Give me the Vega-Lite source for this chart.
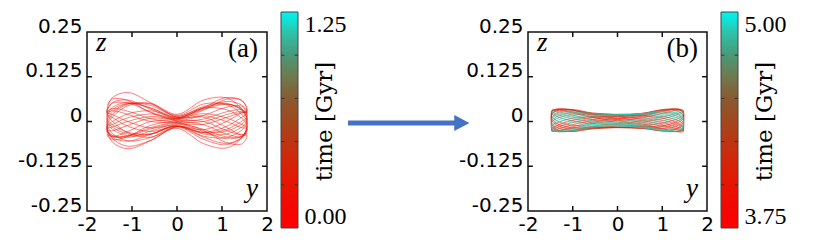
{
"$schema":"https://vega.github.io/schema/vega-lite/v6.json",
"autosize":{"type":"none"},
"padding":{"left":87,"top":32,"right":563,"bottom":38},
"width":180,"height":179,
"background":"white",
"config":{"view":{"stroke":null}},
"datasets":{
"one":[{"k":1}],
"xt":[{"v":-1},{"v":0},{"v":1}],
"yt":[{"v":-0.125},{"v":0},{"v":0.125}],
"cta":[{"v":0.25},{"v":0.5},{"v":0.75},{"v":1}],
"ctb":[{"v":4},{"v":4.25},{"v":4.5},{"v":4.75}],
"a":[
{"t":0,"y":-1.55,"z":0.045},{"t":0,"y":-1.432,"z":0.063},{"t":0,"y":-1.096,"z":0.059},{"t":0,"y":-0.593,"z":0.025},{"t":0,"y":0,"z":0},{"t":0,"y":0.593,"z":-0.025},{"t":0,"y":1.096,"z":-0.059},{"t":0,"y":1.432,"z":-0.063},{"t":0,"y":1.55,"z":-0.045},{"t":0,"y":1.55,"z":-0.037},
{"t":0.012,"y":1.55,"z":-0.037},{"t":0.012,"y":1.432,"z":-0.038},{"t":0.012,"y":1.096,"z":-0.016},{"t":0.012,"y":0.593,"z":0.012},{"t":0.012,"y":0,"z":0.012},{"t":0.012,"y":-0.593,"z":0.053},{"t":0.012,"y":-1.096,"z":0.081},{"t":0.012,"y":-1.432,"z":0.067},{"t":0.012,"y":-1.55,"z":0.037},{"t":0.012,"y":-1.55,"z":0.017},
{"t":0.024,"y":-1.55,"z":0.017},{"t":0.024,"y":-1.432,"z":0},{"t":0.024,"y":-1.096,"z":-0.031},{"t":0.024,"y":-0.593,"z":-0.044},{"t":0.024,"y":0,"z":-0.019},{"t":0.024,"y":0.593,"z":-0.062},{"t":0.024,"y":1.096,"z":-0.074},{"t":0.024,"y":1.432,"z":-0.047},{"t":0.024,"y":1.55,"z":-0.017},{"t":0.024,"y":1.55,"z":0.008},
{"t":0.036,"y":1.55,"z":0.008},{"t":0.036,"y":1.432,"z":0.036},{"t":0.036,"y":1.096,"z":0.066},{"t":0.036,"y":0.593,"z":0.06},{"t":0.036,"y":0,"z":0.02},{"t":0.036,"y":-0.593,"z":0.051},{"t":0.036,"y":-1.096,"z":0.044},{"t":0.036,"y":-1.432,"z":0.013},{"t":0.036,"y":-1.55,"z":-0.008},{"t":0.036,"y":-1.55,"z":-0.029},
{"t":0.048,"y":-1.55,"z":-0.029},{"t":0.048,"y":-1.432,"z":-0.058},{"t":0.048,"y":-1.096,"z":-0.076},{"t":0.048,"y":-0.593,"z":-0.054},{"t":0.048,"y":0,"z":-0.014},{"t":0.048,"y":0.593,"z":-0.023},{"t":0.048,"y":1.096,"z":0},{"t":0.048,"y":1.432,"z":0.024},{"t":0.048,"y":1.55,"z":0.029},{"t":0.048,"y":1.55,"z":0.04},
{"t":0.06,"y":1.55,"z":0.04},{"t":0.06,"y":1.432,"z":0.06},{"t":0.06,"y":1.096,"z":0.062},{"t":0.06,"y":0.593,"z":0.032},{"t":0.06,"y":0,"z":0.004},{"t":0.06,"y":-0.593,"z":-0.011},{"t":0.06,"y":-1.096,"z":-0.042},{"t":0.06,"y":-1.432,"z":-0.051},{"t":0.06,"y":-1.55,"z":-0.04},{"t":0.06,"y":-1.55,"z":-0.036},
{"t":0.072,"y":-1.55,"z":-0.036},{"t":0.072,"y":-1.432,"z":-0.042},{"t":0.072,"y":-1.096,"z":-0.028},{"t":0.072,"y":-0.593,"z":0},{"t":0.072,"y":0,"z":0.007},{"t":0.072,"y":0.593,"z":0.039},{"t":0.072,"y":1.096,"z":0.067},{"t":0.072,"y":1.432,"z":0.059},{"t":0.072,"y":1.55,"z":0.036},{"t":0.072,"y":1.55,"z":0.021},
{"t":0.084,"y":1.55,"z":0.021},{"t":0.084,"y":1.432,"z":0.011},{"t":0.084,"y":1.096,"z":-0.014},{"t":0.084,"y":0.593,"z":-0.03},{"t":0.084,"y":0,"z":-0.015},{"t":0.084,"y":-0.593,"z":-0.053},{"t":0.084,"y":-1.096,"z":-0.069},{"t":0.084,"y":-1.432,"z":-0.048},{"t":0.084,"y":-1.55,"z":-0.021},{"t":0.084,"y":-1.55,"z":0},
{"t":0.096,"y":-1.55,"z":0},{"t":0.096,"y":-1.432,"z":0.021},{"t":0.096,"y":-1.096,"z":0.048},{"t":0.096,"y":-0.593,"z":0.049},{"t":0.096,"y":0,"z":0.017},{"t":0.096,"y":0.593,"z":0.049},{"t":0.096,"y":1.096,"z":0.048},{"t":0.096,"y":1.432,"z":0.021},{"t":0.096,"y":1.55,"z":0},{"t":0.096,"y":1.55,"z":-0.02},
{"t":0.108,"y":1.55,"z":-0.02},{"t":0.108,"y":1.432,"z":-0.045},{"t":0.108,"y":1.096,"z":-0.065},{"t":0.108,"y":0.593,"z":-0.05},{"t":0.108,"y":0,"z":-0.014},{"t":0.108,"y":-0.593,"z":-0.028},{"t":0.108,"y":-1.096,"z":-0.013},{"t":0.108,"y":-1.432,"z":0.011},{"t":0.108,"y":-1.55,"z":0.02},{"t":0.108,"y":-1.55,"z":0.032},
{"t":0.12,"y":-1.55,"z":0.032},{"t":0.12,"y":-1.432,"z":0.053},{"t":0.12,"y":-1.096,"z":0.06},{"t":0.12,"y":-0.593,"z":0.035},{"t":0.12,"y":0,"z":0.006},{"t":0.12,"y":0.593,"z":0},{"t":0.12,"y":1.096,"z":-0.025},{"t":0.12,"y":1.432,"z":-0.037},{"t":0.12,"y":1.55,"z":-0.032},{"t":0.12,"y":1.55,"z":-0.034},
{"t":0.132,"y":1.55,"z":-0.034},{"t":0.132,"y":1.432,"z":-0.043},{"t":0.132,"y":1.096,"z":-0.035},{"t":0.132,"y":0.593,"z":-0.009},{"t":0.132,"y":0,"z":0.003},{"t":0.132,"y":-0.593,"z":0.027},{"t":0.132,"y":-1.096,"z":0.052},{"t":0.132,"y":-1.432,"z":0.051},{"t":0.132,"y":-1.55,"z":0.034},{"t":0.132,"y":-1.55,"z":0.024},
{"t":0.144,"y":-1.55,"z":0.024},{"t":0.144,"y":-1.432,"z":0.019},{"t":0.144,"y":-1.096,"z":0},{"t":0.144,"y":-0.593,"z":-0.018},{"t":0.144,"y":0,"z":-0.011},{"t":0.144,"y":0.593,"z":-0.044},{"t":0.144,"y":1.096,"z":-0.061},{"t":0.144,"y":1.432,"z":-0.046},{"t":0.144,"y":1.55,"z":-0.024},{"t":0.144,"y":1.55,"z":-0.006},
{"t":0.156,"y":1.55,"z":-0.006},{"t":0.156,"y":1.432,"z":0.01},{"t":0.156,"y":1.096,"z":0.033},{"t":0.156,"y":0.593,"z":0.038},{"t":0.156,"y":0,"z":0.015},{"t":0.156,"y":-0.593,"z":0.045},{"t":0.156,"y":-1.096,"z":0.05},{"t":0.156,"y":-1.432,"z":0.027},{"t":0.156,"y":-1.55,"z":0.006},{"t":0.156,"y":-1.55,"z":-0.012},
{"t":0.168,"y":-1.55,"z":-0.012},{"t":0.168,"y":-1.432,"z":-0.034},{"t":0.168,"y":-1.096,"z":-0.054},{"t":0.168,"y":-0.593,"z":-0.045},{"t":0.168,"y":0,"z":-0.014},{"t":0.168,"y":0.593,"z":-0.032},{"t":0.168,"y":1.096,"z":-0.022},{"t":0.168,"y":1.432,"z":0},{"t":0.168,"y":1.55,"z":0.012},{"t":0.168,"y":1.55,"z":0.026},
{"t":0.18,"y":1.55,"z":0.026},{"t":0.18,"y":1.432,"z":0.046},{"t":0.18,"y":1.096,"z":0.056},{"t":0.18,"y":0.593,"z":0.037},{"t":0.18,"y":0,"z":0.008},{"t":0.18,"y":-0.593,"z":0.009},{"t":0.18,"y":-1.096,"z":-0.011},{"t":0.18,"y":-1.432,"z":-0.026},{"t":0.18,"y":-1.55,"z":-0.026},{"t":0.18,"y":-1.55,"z":-0.031},
{"t":0.192,"y":-1.55,"z":-0.031},{"t":0.192,"y":-1.432,"z":-0.043},{"t":0.192,"y":-1.096,"z":-0.04},{"t":0.192,"y":-0.593,"z":-0.017},{"t":0.192,"y":0,"z":0},{"t":0.192,"y":0.593,"z":0.017},{"t":0.192,"y":1.096,"z":0.04},{"t":0.192,"y":1.432,"z":0.043},{"t":0.192,"y":1.55,"z":0.031},{"t":0.192,"y":1.55,"z":0.025},
{"t":0.204,"y":1.55,"z":0.025},{"t":0.204,"y":1.432,"z":0.025},{"t":0.204,"y":1.096,"z":0.011},{"t":0.204,"y":0.593,"z":-0.008},{"t":0.204,"y":0,"z":-0.008},{"t":0.204,"y":-0.593,"z":-0.036},{"t":0.204,"y":-1.096,"z":-0.055},{"t":0.204,"y":-1.432,"z":-0.045},{"t":0.204,"y":-1.55,"z":-0.025},{"t":0.204,"y":-1.55,"z":-0.011},
{"t":0.216,"y":-1.55,"z":-0.011},{"t":0.216,"y":-1.432,"z":0},{"t":0.216,"y":-1.096,"z":0.021},{"t":0.216,"y":-0.593,"z":0.03},{"t":0.216,"y":0,"z":0.013},{"t":0.216,"y":0.593,"z":0.042},{"t":0.216,"y":1.096,"z":0.051},{"t":0.216,"y":1.432,"z":0.032},{"t":0.216,"y":1.55,"z":0.011},{"t":0.216,"y":1.55,"z":-0.006},
{"t":0.228,"y":1.55,"z":-0.006},{"t":0.228,"y":1.432,"z":-0.025},{"t":0.228,"y":1.096,"z":-0.045},{"t":0.228,"y":0.593,"z":-0.041},{"t":0.228,"y":0,"z":-0.013},{"t":0.228,"y":-0.593,"z":-0.035},{"t":0.228,"y":-1.096,"z":-0.03},{"t":0.228,"y":-1.432,"z":-0.009},{"t":0.228,"y":-1.55,"z":0.006},{"t":0.228,"y":-1.55,"z":0.02},
{"t":0.24,"y":-1.55,"z":0.02},{"t":0.24,"y":-1.432,"z":0.04},{"t":0.24,"y":-1.096,"z":0.053},{"t":0.24,"y":-0.593,"z":0.038},{"t":0.24,"y":0,"z":0.009},{"t":0.24,"y":0.593,"z":0.016},{"t":0.24,"y":1.096,"z":0},{"t":0.24,"y":1.432,"z":-0.017},{"t":0.24,"y":1.55,"z":-0.02},{"t":0.24,"y":1.55,"z":-0.028},
{"t":0.252,"y":1.55,"z":-0.028},{"t":0.252,"y":1.432,"z":-0.042},{"t":0.252,"y":1.096,"z":-0.043},{"t":0.252,"y":0.593,"z":-0.022},{"t":0.252,"y":0,"z":-0.003},{"t":0.252,"y":-0.593,"z":0.008},{"t":0.252,"y":-1.096,"z":0.029},{"t":0.252,"y":-1.432,"z":0.036},{"t":0.252,"y":-1.55,"z":0.028},{"t":0.252,"y":-1.55,"z":0.026},
{"t":0.264,"y":-1.55,"z":0.026},{"t":0.264,"y":-1.432,"z":0.03},{"t":0.264,"y":-1.096,"z":0.02},{"t":0.264,"y":-0.593,"z":0},{"t":0.264,"y":0,"z":-0.005},{"t":0.264,"y":0.593,"z":-0.028},{"t":0.264,"y":1.096,"z":-0.048},{"t":0.264,"y":1.432,"z":-0.042},{"t":0.264,"y":1.55,"z":-0.026},{"t":0.264,"y":1.55,"z":-0.015},
{"t":0.276,"y":1.55,"z":-0.015},{"t":0.276,"y":1.432,"z":-0.008},{"t":0.276,"y":1.096,"z":0.01},{"t":0.276,"y":0.593,"z":0.022},{"t":0.276,"y":0,"z":0.011},{"t":0.276,"y":-0.593,"z":0.038},{"t":0.276,"y":-1.096,"z":0.05},{"t":0.276,"y":-1.432,"z":0.034},{"t":0.276,"y":-1.55,"z":0.015},{"t":0.276,"y":-1.55,"z":0},
{"t":0.288,"y":-1.55,"z":0},{"t":0.288,"y":-1.432,"z":-0.016},{"t":0.288,"y":-1.096,"z":-0.035},{"t":0.288,"y":-0.593,"z":-0.035},{"t":0.288,"y":0,"z":-0.013},{"t":0.288,"y":0.593,"z":-0.035},{"t":0.288,"y":1.096,"z":-0.035},{"t":0.288,"y":1.432,"z":-0.016},{"t":0.288,"y":1.55,"z":0},{"t":0.288,"y":1.55,"z":0.015},
{"t":0.3,"y":1.55,"z":0.015},{"t":0.3,"y":1.432,"z":0.034},{"t":0.3,"y":1.096,"z":0.049},{"t":0.3,"y":0.593,"z":0.038},{"t":0.3,"y":0,"z":0.01},{"t":0.3,"y":-0.593,"z":0.021},{"t":0.3,"y":-1.096,"z":0.01},{"t":0.3,"y":-1.432,"z":-0.008},{"t":0.3,"y":-1.55,"z":-0.015},{"t":0.3,"y":-1.55,"z":-0.025},
{"t":0.312,"y":-1.55,"z":-0.025},{"t":0.312,"y":-1.432,"z":-0.04},{"t":0.312,"y":-1.096,"z":-0.045},{"t":0.312,"y":-0.593,"z":-0.027},{"t":0.312,"y":0,"z":-0.005},{"t":0.312,"y":0.593,"z":0},{"t":0.312,"y":1.096,"z":0.019},{"t":0.312,"y":1.432,"z":0.028},{"t":0.312,"y":1.55,"z":0.025},{"t":0.312,"y":1.55,"z":0.026},
{"t":0.324,"y":1.55,"z":0.026},{"t":0.324,"y":1.432,"z":0.033},{"t":0.324,"y":1.096,"z":0.027},{"t":0.324,"y":0.593,"z":0.007},{"t":0.324,"y":0,"z":-0.002},{"t":0.324,"y":-0.593,"z":-0.021},{"t":0.324,"y":-1.096,"z":-0.041},{"t":0.324,"y":-1.432,"z":-0.039},{"t":0.324,"y":-1.55,"z":-0.026},{"t":0.324,"y":-1.55,"z":-0.018},
{"t":0.336,"y":-1.55,"z":-0.018},{"t":0.336,"y":-1.432,"z":-0.015},{"t":0.336,"y":-1.096,"z":0},{"t":0.336,"y":-0.593,"z":0.014},{"t":0.336,"y":0,"z":0.009},{"t":0.336,"y":0.593,"z":0.034},{"t":0.336,"y":1.096,"z":0.048},{"t":0.336,"y":1.432,"z":0.036},{"t":0.336,"y":1.55,"z":0.018},{"t":0.336,"y":1.55,"z":0.005},
{"t":0.348,"y":1.55,"z":0.005},{"t":0.348,"y":1.432,"z":-0.008},{"t":0.348,"y":1.096,"z":-0.027},{"t":0.348,"y":0.593,"z":-0.031},{"t":0.348,"y":0,"z":-0.012},{"t":0.348,"y":-0.593,"z":-0.036},{"t":0.348,"y":-1.096,"z":-0.04},{"t":0.348,"y":-1.432,"z":-0.022},{"t":0.348,"y":-1.55,"z":-0.005}
],
"b":[
{"t":3.75,"y":-1.47,"z":0.032},{"t":3.75,"y":-1.358,"z":0.033},{"t":3.75,"y":-1.039,"z":0.025},{"t":3.75,"y":-0.563,"z":0.011},{"t":3.75,"y":0,"z":0.002},{"t":3.75,"y":0.563,"z":-0.007},{"t":3.75,"y":1.039,"z":-0.021},{"t":3.75,"y":1.358,"z":-0.029},{"t":3.75,"y":1.47,"z":-0.028},{"t":3.75,"y":1.47,"z":-0.015},
{"t":3.79,"y":1.47,"z":-0.015},{"t":3.79,"y":1.358,"z":-0.005},{"t":3.79,"y":1.039,"z":0.008},{"t":3.79,"y":0.563,"z":0.015},{"t":3.79,"y":0,"z":0.019},{"t":3.79,"y":-0.563,"z":0.024},{"t":3.79,"y":-1.039,"z":0.034},{"t":3.79,"y":-1.358,"z":0.03},{"t":3.79,"y":-1.47,"z":0.019},{"t":3.79,"y":-1.47,"z":-0.009},
{"t":3.83,"y":-1.47,"z":-0.009},{"t":3.83,"y":-1.358,"z":-0.022},{"t":3.83,"y":-1.039,"z":-0.028},{"t":3.83,"y":-0.563,"z":-0.021},{"t":3.83,"y":0,"z":-0.016},{"t":3.83,"y":0.563,"z":-0.014},{"t":3.83,"y":1.039,"z":-0.011},{"t":3.83,"y":1.358,"z":0.002},{"t":3.83,"y":1.47,"z":0.013},{"t":3.83,"y":1.47,"z":0.031},
{"t":3.87,"y":1.47,"z":0.031},{"t":3.87,"y":1.358,"z":0.035},{"t":3.87,"y":1.039,"z":0.029},{"t":3.87,"y":0.563,"z":0.015},{"t":3.87,"y":0,"z":0.006},{"t":3.87,"y":-0.563,"z":-0.002},{"t":3.87,"y":-1.039,"z":-0.016},{"t":3.87,"y":-1.358,"z":-0.026},{"t":3.87,"y":-1.47,"z":-0.027},{"t":3.87,"y":-1.47,"z":-0.019},
{"t":3.91,"y":-1.47,"z":-0.019},{"t":3.91,"y":-1.358,"z":-0.011},{"t":3.91,"y":-1.039,"z":0.002},{"t":3.91,"y":-0.563,"z":0.011},{"t":3.91,"y":0,"z":0.016},{"t":3.91,"y":0.563,"z":0.023},{"t":3.91,"y":1.039,"z":0.034},{"t":3.91,"y":1.358,"z":0.033},{"t":3.91,"y":1.47,"z":0.023},{"t":3.91,"y":1.47,"z":-0.004},
{"t":3.95,"y":1.47,"z":-0.004},{"t":3.95,"y":1.358,"z":-0.017},{"t":3.95,"y":1.039,"z":-0.025},{"t":3.95,"y":0.563,"z":-0.02},{"t":3.95,"y":0,"z":-0.017},{"t":3.95,"y":-0.563,"z":-0.017},{"t":3.95,"y":-1.039,"z":-0.016},{"t":3.95,"y":-1.358,"z":-0.005},{"t":3.95,"y":-1.47,"z":0.008},{"t":3.95,"y":-1.47,"z":0.029},
{"t":3.99,"y":-1.47,"z":0.029},{"t":3.99,"y":-1.358,"z":0.035},{"t":3.99,"y":-1.039,"z":0.032},{"t":3.99,"y":-0.563,"z":0.018},{"t":3.99,"y":0,"z":0.009},{"t":3.99,"y":0.563,"z":0.002},{"t":3.99,"y":1.039,"z":-0.01},{"t":3.99,"y":1.358,"z":-0.021},{"t":3.99,"y":1.47,"z":-0.025},{"t":3.99,"y":1.47,"z":-0.022},
{"t":4.03,"y":1.47,"z":-0.022},{"t":4.03,"y":1.358,"z":-0.016},{"t":4.03,"y":1.039,"z":-0.004},{"t":4.03,"y":0.563,"z":0.006},{"t":4.03,"y":0,"z":0.013},{"t":4.03,"y":-0.563,"z":0.02},{"t":4.03,"y":-1.039,"z":0.033},{"t":4.03,"y":-1.358,"z":0.034},{"t":4.03,"y":-1.47,"z":0.026},{"t":4.03,"y":-1.47,"z":0.002},
{"t":4.07,"y":-1.47,"z":0.002},{"t":4.07,"y":-1.358,"z":-0.01},{"t":4.07,"y":-1.039,"z":-0.02},{"t":4.07,"y":-0.563,"z":-0.018},{"t":4.07,"y":0,"z":-0.017},{"t":4.07,"y":0.563,"z":-0.018},{"t":4.07,"y":1.039,"z":-0.02},{"t":4.07,"y":1.358,"z":-0.01},{"t":4.07,"y":1.47,"z":0.002},{"t":4.07,"y":1.47,"z":0.026},
{"t":4.11,"y":1.47,"z":0.026},{"t":4.11,"y":1.358,"z":0.034},{"t":4.11,"y":1.039,"z":0.033},{"t":4.11,"y":0.563,"z":0.02},{"t":4.11,"y":0,"z":0.013},{"t":4.11,"y":-0.563,"z":0.006},{"t":4.11,"y":-1.039,"z":-0.004},{"t":4.11,"y":-1.358,"z":-0.016},{"t":4.11,"y":-1.47,"z":-0.022},{"t":4.11,"y":-1.47,"z":-0.024},
{"t":4.15,"y":-1.47,"z":-0.024},{"t":4.15,"y":-1.358,"z":-0.021},{"t":4.15,"y":-1.039,"z":-0.01},{"t":4.15,"y":-0.563,"z":0.002},{"t":4.15,"y":0,"z":0.009},{"t":4.15,"y":0.563,"z":0.018},{"t":4.15,"y":1.039,"z":0.031},{"t":4.15,"y":1.358,"z":0.034},{"t":4.15,"y":1.47,"z":0.028},{"t":4.15,"y":1.47,"z":0.008},
{"t":4.19,"y":1.47,"z":0.008},{"t":4.19,"y":1.358,"z":-0.004},{"t":4.19,"y":1.039,"z":-0.015},{"t":4.19,"y":0.563,"z":-0.016},{"t":4.19,"y":0,"z":-0.017},{"t":4.19,"y":-0.563,"z":-0.019},{"t":4.19,"y":-1.039,"z":-0.024},{"t":4.19,"y":-1.358,"z":-0.016},{"t":4.19,"y":-1.47,"z":-0.004},{"t":4.19,"y":-1.47,"z":0.022},
{"t":4.23,"y":-1.47,"z":0.022},{"t":4.23,"y":-1.358,"z":0.032},{"t":4.23,"y":-1.039,"z":0.033},{"t":4.23,"y":-0.563,"z":0.022},{"t":4.23,"y":0,"z":0.015},{"t":4.23,"y":0.563,"z":0.01},{"t":4.23,"y":1.039,"z":0.002},{"t":4.23,"y":1.358,"z":-0.01},{"t":4.23,"y":1.47,"z":-0.018},{"t":4.23,"y":1.47,"z":-0.026},
{"t":4.27,"y":1.47,"z":-0.026},{"t":4.27,"y":1.358,"z":-0.024},{"t":4.27,"y":1.039,"z":-0.015},{"t":4.27,"y":0.563,"z":-0.002},{"t":4.27,"y":0,"z":0.006},{"t":4.27,"y":-0.563,"z":0.014},{"t":4.27,"y":-1.039,"z":0.028},{"t":4.27,"y":-1.358,"z":0.033},{"t":4.27,"y":-1.47,"z":0.03},{"t":4.27,"y":-1.47,"z":0.013},
{"t":4.31,"y":-1.47,"z":0.013},{"t":4.31,"y":-1.358,"z":0.002},{"t":4.31,"y":-1.039,"z":-0.01},{"t":4.31,"y":-0.563,"z":-0.013},{"t":4.31,"y":0,"z":-0.015},{"t":4.31,"y":0.563,"z":-0.019},{"t":4.31,"y":1.039,"z":-0.026},{"t":4.31,"y":1.358,"z":-0.02},{"t":4.31,"y":1.47,"z":-0.009},{"t":4.31,"y":1.47,"z":0.017},
{"t":4.35,"y":1.47,"z":0.017},{"t":4.35,"y":1.358,"z":0.028},{"t":4.35,"y":1.039,"z":0.032},{"t":4.35,"y":0.563,"z":0.023},{"t":4.35,"y":0,"z":0.017},{"t":4.35,"y":-0.563,"z":0.014},{"t":4.35,"y":-1.039,"z":0.008},{"t":4.35,"y":-1.358,"z":-0.004},{"t":4.35,"y":-1.47,"z":-0.013},{"t":4.35,"y":-1.47,"z":-0.026},
{"t":4.39,"y":-1.47,"z":-0.026},{"t":4.39,"y":-1.358,"z":-0.027},{"t":4.39,"y":-1.039,"z":-0.02},{"t":4.39,"y":-0.563,"z":-0.006},{"t":4.39,"y":0,"z":0.002},{"t":4.39,"y":0.563,"z":0.01},{"t":4.39,"y":1.039,"z":0.024},{"t":4.39,"y":1.358,"z":0.031},{"t":4.39,"y":1.47,"z":0.03},{"t":4.39,"y":1.47,"z":0.017},
{"t":4.43,"y":1.47,"z":0.017},{"t":4.43,"y":1.358,"z":0.008},{"t":4.43,"y":1.039,"z":-0.004},{"t":4.43,"y":0.563,"z":-0.01},{"t":4.43,"y":0,"z":-0.013},{"t":4.43,"y":-0.563,"z":-0.019},{"t":4.43,"y":-1.039,"z":-0.028},{"t":4.43,"y":-1.358,"z":-0.024},{"t":4.43,"y":-1.47,"z":-0.013},{"t":4.43,"y":-1.47,"z":0.012},
{"t":4.47,"y":-1.47,"z":0.012},{"t":4.47,"y":-1.358,"z":0.024},{"t":4.47,"y":-1.039,"z":0.03},{"t":4.47,"y":-0.563,"z":0.023},{"t":4.47,"y":0,"z":0.019},{"t":4.47,"y":0.563,"z":0.017},{"t":4.47,"y":1.039,"z":0.013},{"t":4.47,"y":1.358,"z":0.002},{"t":4.47,"y":1.47,"z":-0.008},{"t":4.47,"y":1.47,"z":-0.025},
{"t":4.51,"y":1.47,"z":-0.025},{"t":4.51,"y":1.358,"z":-0.028},{"t":4.51,"y":1.039,"z":-0.023},{"t":4.51,"y":0.563,"z":-0.01},{"t":4.51,"y":0,"z":-0.002},{"t":4.51,"y":-0.563,"z":0.006},{"t":4.51,"y":-1.039,"z":0.019},{"t":4.51,"y":-1.358,"z":0.028},{"t":4.51,"y":-1.47,"z":0.029},{"t":4.51,"y":-1.47,"z":0.021},
{"t":4.55,"y":-1.47,"z":0.021},{"t":4.55,"y":-1.358,"z":0.014},{"t":4.55,"y":-1.039,"z":0.002},{"t":4.55,"y":-0.563,"z":-0.006},{"t":4.55,"y":0,"z":-0.011},{"t":4.55,"y":0.563,"z":-0.017},{"t":4.55,"y":1.039,"z":-0.028},{"t":4.55,"y":1.358,"z":-0.026},{"t":4.55,"y":1.47,"z":-0.017},{"t":4.55,"y":1.47,"z":0.007},
{"t":4.59,"y":1.47,"z":0.007},{"t":4.59,"y":1.358,"z":0.019},{"t":4.59,"y":1.039,"z":0.027},{"t":4.59,"y":0.563,"z":0.022},{"t":4.59,"y":0,"z":0.02},{"t":4.59,"y":-0.563,"z":0.019},{"t":4.59,"y":-1.039,"z":0.018},{"t":4.59,"y":-1.358,"z":0.008},{"t":4.59,"y":-1.47,"z":-0.003},{"t":4.59,"y":-1.47,"z":-0.023},
{"t":4.63,"y":-1.47,"z":-0.023},{"t":4.63,"y":-1.358,"z":-0.028},{"t":4.63,"y":-1.039,"z":-0.025},{"t":4.63,"y":-0.563,"z":-0.013},{"t":4.63,"y":0,"z":-0.005},{"t":4.63,"y":0.563,"z":0.002},{"t":4.63,"y":1.039,"z":0.013},{"t":4.63,"y":1.358,"z":0.023},{"t":4.63,"y":1.47,"z":0.027},{"t":4.63,"y":1.47,"z":0.024},
{"t":4.67,"y":1.47,"z":0.024},{"t":4.67,"y":1.358,"z":0.019},{"t":4.67,"y":1.039,"z":0.008},{"t":4.67,"y":0.563,"z":-0.002},{"t":4.67,"y":0,"z":-0.008},{"t":4.67,"y":-0.563,"z":-0.015},{"t":4.67,"y":-1.039,"z":-0.027},{"t":4.67,"y":-1.358,"z":-0.028},{"t":4.67,"y":-1.47,"z":-0.02},{"t":4.67,"y":-1.47,"z":0.002},
{"t":4.71,"y":-1.47,"z":0.002},{"t":4.71,"y":-1.358,"z":0.013},{"t":4.71,"y":-1.039,"z":0.023},{"t":4.71,"y":-0.563,"z":0.021},{"t":4.71,"y":0,"z":0.02},{"t":4.71,"y":0.563,"z":0.021},{"t":4.71,"y":1.039,"z":0.023},{"t":4.71,"y":1.358,"z":0.013},{"t":4.71,"y":1.47,"z":0.002},{"t":4.71,"y":1.47,"z":-0.02},
{"t":4.75,"y":1.47,"z":-0.02},{"t":4.75,"y":1.358,"z":-0.027},{"t":4.75,"y":1.039,"z":-0.026},{"t":4.75,"y":0.563,"z":-0.015},{"t":4.75,"y":0,"z":-0.008},{"t":4.75,"y":-0.563,"z":-0.002},{"t":4.75,"y":-1.039,"z":0.008},{"t":4.75,"y":-1.358,"z":0.019},{"t":4.75,"y":-1.47,"z":0.024},{"t":4.75,"y":-1.47,"z":0.026},
{"t":4.79,"y":-1.47,"z":0.026},{"t":4.79,"y":-1.358,"z":0.023},{"t":4.79,"y":-1.039,"z":0.013},{"t":4.79,"y":-0.563,"z":0.002},{"t":4.79,"y":0,"z":-0.005},{"t":4.79,"y":0.563,"z":-0.012},{"t":4.79,"y":1.039,"z":-0.025},{"t":4.79,"y":1.358,"z":-0.028},{"t":4.79,"y":1.47,"z":-0.022},{"t":4.79,"y":1.47,"z":-0.003},
{"t":4.83,"y":1.47,"z":-0.003},{"t":4.83,"y":1.358,"z":0.008},{"t":4.83,"y":1.039,"z":0.018},{"t":4.83,"y":0.563,"z":0.019},{"t":4.83,"y":0,"z":0.019},{"t":4.83,"y":-0.563,"z":0.022},{"t":4.83,"y":-1.039,"z":0.026},{"t":4.83,"y":-1.358,"z":0.018},{"t":4.83,"y":-1.47,"z":0.007},{"t":4.83,"y":-1.47,"z":-0.016},
{"t":4.87,"y":-1.47,"z":-0.016},{"t":4.87,"y":-1.358,"z":-0.025},{"t":4.87,"y":-1.039,"z":-0.026},{"t":4.87,"y":-0.563,"z":-0.016},{"t":4.87,"y":0,"z":-0.01},{"t":4.87,"y":0.563,"z":-0.006},{"t":4.87,"y":1.039,"z":0.002},{"t":4.87,"y":1.358,"z":0.013},{"t":4.87,"y":1.47,"z":0.02},{"t":4.87,"y":1.47,"z":0.027},
{"t":4.91,"y":1.47,"z":0.027},{"t":4.91,"y":1.358,"z":0.026},{"t":4.91,"y":1.039,"z":0.018},{"t":4.91,"y":0.563,"z":0.006},{"t":4.91,"y":0,"z":-0.001},{"t":4.91,"y":-0.563,"z":-0.009},{"t":4.91,"y":-1.039,"z":-0.021},{"t":4.91,"y":-1.358,"z":-0.027},{"t":4.91,"y":-1.47,"z":-0.023},{"t":4.91,"y":-1.47,"z":-0.008},
{"t":4.95,"y":-1.47,"z":-0.008},{"t":4.95,"y":-1.358,"z":0.002},{"t":4.95,"y":-1.039,"z":0.013},{"t":4.95,"y":-0.563,"z":0.016},{"t":4.95,"y":0,"z":0.018},{"t":4.95,"y":0.563,"z":0.022},{"t":4.95,"y":1.039,"z":0.028},{"t":4.95,"y":1.358,"z":0.022},{"t":4.95,"y":1.47,"z":0.012},{"t":4.95,"y":1.47,"z":-0.012},
{"t":4.99,"y":1.47,"z":-0.012},{"t":4.99,"y":1.358,"z":-0.022},{"t":4.99,"y":1.039,"z":-0.025},{"t":4.99,"y":0.563,"z":-0.017},{"t":4.99,"y":0,"z":-0.012},{"t":4.99,"y":-0.563,"z":-0.009},{"t":4.99,"y":-1.039,"z":-0.003},{"t":4.99,"y":-1.358,"z":0.008},{"t":4.99,"y":-1.47,"z":0.016}
]
},
"layer":[
 {"data":{"name":"a"},"mark":{"type":"line","interpolate":"catmull-rom","strokeWidth":0.8,"opacity":0.65},
  "encoding":{
   "x":{"field":"y","type":"quantitative","scale":{"domain":[-2,2],"nice":false,"zero":false},"axis":{"orient":"bottom","values":[-2,-1,0,1,2],"labelExpr":"datum.value + ''","labelFlush":false,"labelOverlap":false,"labelPadding":3,"domain":false,"ticks":false,"grid":false,"labelFont":"DejaVu Sans","labelFontSize":20,"labelColor":"#000","title":null}},
   "y":{"field":"z","type":"quantitative","scale":{"domain":[-0.25,0.25],"nice":false,"zero":false},"axis":{"orient":"left","values":[-0.25,-0.125,0,0.125,0.25],"labelExpr":"datum.value + ''","labelOverlap":false,"labelBaseline":"alphabetic","labelPadding":5,"domain":false,"ticks":false,"grid":false,"labelFont":"DejaVu Sans","labelFontSize":20,"labelColor":"#000","title":null}},
   "color":{"field":"t","type":"quantitative","scale":{"domain":[0,1.25],"range":["#ff0000","#f20800","#e81500","#d42408","#bd3512","#a0481f","#8a5a30","#6f7a4e","#4a9878","#30c0a8","#00f5f0"],"interpolate":"rgb"},"legend":null},
   "order":{"value":null}}},
 {"data":{"name":"one"},"mark":{"type":"rect","filled":false,"color":"#111","strokeWidth":1.5},
  "encoding":{"x":{"datum":-2,"type":"quantitative","scale":{"domain":[-2,2],"nice":false,"zero":false},"axis":null},"x2":{"datum":2},"y":{"datum":-0.25,"type":"quantitative","scale":{"domain":[-0.25,0.25],"nice":false,"zero":false},"axis":null},"y2":{"datum":0.25}}},
 {"data":{"name":"xt"},"mark":{"type":"rule","color":"#111","strokeWidth":1.5},
  "encoding":{"x":{"field":"v","type":"quantitative","scale":{"domain":[-2,2],"nice":false,"zero":false},"axis":null},"y":{"datum":-0.25,"type":"quantitative","scale":{"domain":[-0.25,0.25],"nice":false,"zero":false},"axis":null},"y2":{"datum":-0.236}}},
 {"data":{"name":"xt"},"mark":{"type":"rule","color":"#111","strokeWidth":1.5},
  "encoding":{"x":{"field":"v","type":"quantitative","scale":{"domain":[-2,2],"nice":false,"zero":false},"axis":null},"y":{"datum":0.25,"type":"quantitative","scale":{"domain":[-0.25,0.25],"nice":false,"zero":false},"axis":null},"y2":{"datum":0.236}}},
 {"data":{"name":"yt"},"mark":{"type":"rule","color":"#111","strokeWidth":1.5},
  "encoding":{"y":{"field":"v","type":"quantitative","scale":{"domain":[-0.25,0.25],"nice":false,"zero":false},"axis":null},"x":{"datum":-2,"type":"quantitative","scale":{"domain":[-2,2],"nice":false,"zero":false},"axis":null},"x2":{"datum":-1.89}}},
 {"data":{"name":"yt"},"mark":{"type":"rule","color":"#111","strokeWidth":1.5},
  "encoding":{"y":{"field":"v","type":"quantitative","scale":{"domain":[-0.25,0.25],"nice":false,"zero":false},"axis":null},"x":{"datum":2,"type":"quantitative","scale":{"domain":[-2,2],"nice":false,"zero":false},"axis":null},"x2":{"datum":1.89}}},
 {"data":{"name":"one"},"mark":{"type":"text","text":"z","font":"Liberation Serif","fontStyle":"italic","fontSize":27,"align":"left","baseline":"alphabetic","color":"#000"},
  "encoding":{"x":{"datum":-1.8,"type":"quantitative","scale":{"domain":[-2,2],"nice":false,"zero":false},"axis":null},"y":{"datum":0.197,"type":"quantitative","scale":{"domain":[-0.25,0.25],"nice":false,"zero":false},"axis":null}}},
 {"data":{"name":"one"},"mark":{"type":"text","text":"(a)","font":"Liberation Serif","fontSize":27,"align":"right","baseline":"alphabetic","color":"#000"},
  "encoding":{"x":{"datum":1.8,"type":"quantitative","scale":{"domain":[-2,2],"nice":false,"zero":false},"axis":null},"y":{"datum":0.18,"type":"quantitative","scale":{"domain":[-0.25,0.25],"nice":false,"zero":false},"axis":null}}},
 {"data":{"name":"one"},"mark":{"type":"text","text":"y","font":"Liberation Serif","fontStyle":"italic","fontSize":27,"align":"right","baseline":"alphabetic","color":"#000"},
  "encoding":{"x":{"datum":1.8,"type":"quantitative","scale":{"domain":[-2,2],"nice":false,"zero":false},"axis":null},"y":{"datum":-0.211,"type":"quantitative","scale":{"domain":[-0.25,0.25],"nice":false,"zero":false},"axis":null}}},
 {"data":{"name":"one"},"mark":{"type":"rect","fill":{"gradient":"linear","x1":0,"y1":1,"x2":0,"y2":0,"stops":[{"offset":0,"color":"#ff0000"},{"offset":0.1,"color":"#f20800"},{"offset":0.2,"color":"#e81500"},{"offset":0.3,"color":"#d42408"},{"offset":0.4,"color":"#bd3512"},{"offset":0.5,"color":"#a0481f"},{"offset":0.6,"color":"#8a5a30"},{"offset":0.7,"color":"#6f7a4e"},{"offset":0.8,"color":"#4a9878"},{"offset":0.9,"color":"#30c0a8"},{"offset":1,"color":"#00f5f0"}]},"stroke":"#444","strokeWidth":1},
  "encoding":{"x":{"datum":0,"type":"quantitative","scale":{"domain":[0,1],"range":[194,211],"nice":false,"zero":false},"axis":null},"x2":{"datum":1},
   "y":{"datum":0,"type":"quantitative","scale":{"domain":[0,1.25],"range":[196,-20],"nice":false,"zero":false},"axis":{"orient":"right","offset":31,"values":[0,1.25],"labelExpr":"format(datum.value, '.2f')","labelFlush":true,"labelOverlap":false,"domain":false,"ticks":false,"grid":false,"labelFont":"Liberation Serif","labelFontSize":24,"labelColor":"#000","labelPadding":6,"title":"time [Gyr]","titleFont":"DejaVu Serif","titleFontSize":23,"titleFontWeight":"normal","titleColor":"#000","titleAngle":270,"titleBaseline":"top","titleAlign":"center","titleX":15,"titleY":89}},"y2":{"datum":1.25}}},
 {"data":{"name":"cta"},"mark":{"type":"rule","color":"#333","strokeWidth":1},
  "encoding":{"x":{"datum":0,"type":"quantitative","scale":{"domain":[0,1],"range":[194,211],"nice":false,"zero":false},"axis":null},"x2":{"datum":0.2},"y":{"field":"v","type":"quantitative","scale":{"domain":[0,1.25],"range":[196,-20],"nice":false,"zero":false},"axis":null}}},
 {"data":{"name":"cta"},"mark":{"type":"rule","color":"#333","strokeWidth":1},
  "encoding":{"x":{"datum":1,"type":"quantitative","scale":{"domain":[0,1],"range":[194,211],"nice":false,"zero":false},"axis":null},"x2":{"datum":0.8},"y":{"field":"v","type":"quantitative","scale":{"domain":[0,1.25],"range":[196,-20],"nice":false,"zero":false},"axis":null}}},
 {"data":{"name":"one"},"mark":{"type":"rule","color":"#4472c4","strokeWidth":5},
  "encoding":{"x":{"datum":0,"type":"quantitative","scale":{"domain":[0,1],"range":[261,383],"nice":false,"zero":false},"axis":null},"x2":{"datum":0.9},"y":{"datum":0.5,"type":"quantitative","scale":{"domain":[0,1],"range":[182,0],"nice":false,"zero":false},"axis":null}}},
 {"data":{"name":"one"},"mark":{"type":"point","shape":"M -0.9 -1 L 1 0 L -0.9 1 Z","filled":true,"size":256,"color":"#4472c4","opacity":1},
  "encoding":{"x":{"datum":0.93,"type":"quantitative","scale":{"domain":[0,1],"range":[261,383],"nice":false,"zero":false},"axis":null},"y":{"datum":0.5,"type":"quantitative","scale":{"domain":[0,1],"range":[182,0],"nice":false,"zero":false},"axis":null}}},
 {"data":{"name":"b"},"mark":{"type":"line","interpolate":"catmull-rom","strokeWidth":0.8,"opacity":0.75},
  "encoding":{
   "x":{"field":"y","type":"quantitative","scale":{"domain":[-2,2],"range":[441,620],"nice":false,"zero":false},"axis":{"orient":"bottom","values":[-2,-1,0,1,2],"labelExpr":"datum.value + ''","labelFlush":false,"labelOverlap":false,"labelPadding":3,"domain":false,"ticks":false,"grid":false,"labelFont":"DejaVu Sans","labelFontSize":20,"labelColor":"#000","title":null}},
   "y":{"field":"z","type":"quantitative","scale":{"domain":[-0.25,0.25],"nice":false,"zero":false},"axis":{"orient":"left","offset":-441,"values":[-0.25,-0.125,0,0.125,0.25],"labelExpr":"datum.value + ''","labelOverlap":false,"labelBaseline":"alphabetic","labelPadding":5,"domain":false,"ticks":false,"grid":false,"labelFont":"DejaVu Sans","labelFontSize":20,"labelColor":"#000","title":null}},
   "color":{"field":"t","type":"quantitative","scale":{"domain":[3.75,5],"range":["#ff0000","#f20800","#e81500","#d42408","#bd3512","#a0481f","#8a5a30","#6f7a4e","#4a9878","#30c0a8","#00f5f0"],"interpolate":"rgb"},"legend":null},
   "order":{"value":null}}},
 {"data":{"name":"one"},"mark":{"type":"rect","filled":false,"color":"#111","strokeWidth":1.5},
  "encoding":{"x":{"datum":-2,"type":"quantitative","scale":{"domain":[-2,2],"range":[441,620],"nice":false,"zero":false},"axis":null},"x2":{"datum":2},"y":{"datum":-0.25,"type":"quantitative","scale":{"domain":[-0.25,0.25],"nice":false,"zero":false},"axis":null},"y2":{"datum":0.25}}},
 {"data":{"name":"xt"},"mark":{"type":"rule","color":"#111","strokeWidth":1.5},
  "encoding":{"x":{"field":"v","type":"quantitative","scale":{"domain":[-2,2],"range":[441,620],"nice":false,"zero":false},"axis":null},"y":{"datum":-0.25,"type":"quantitative","scale":{"domain":[-0.25,0.25],"nice":false,"zero":false},"axis":null},"y2":{"datum":-0.236}}},
 {"data":{"name":"xt"},"mark":{"type":"rule","color":"#111","strokeWidth":1.5},
  "encoding":{"x":{"field":"v","type":"quantitative","scale":{"domain":[-2,2],"range":[441,620],"nice":false,"zero":false},"axis":null},"y":{"datum":0.25,"type":"quantitative","scale":{"domain":[-0.25,0.25],"nice":false,"zero":false},"axis":null},"y2":{"datum":0.236}}},
 {"data":{"name":"yt"},"mark":{"type":"rule","color":"#111","strokeWidth":1.5},
  "encoding":{"y":{"field":"v","type":"quantitative","scale":{"domain":[-0.25,0.25],"nice":false,"zero":false},"axis":null},"x":{"datum":-2,"type":"quantitative","scale":{"domain":[-2,2],"range":[441,620],"nice":false,"zero":false},"axis":null},"x2":{"datum":-1.89}}},
 {"data":{"name":"yt"},"mark":{"type":"rule","color":"#111","strokeWidth":1.5},
  "encoding":{"y":{"field":"v","type":"quantitative","scale":{"domain":[-0.25,0.25],"nice":false,"zero":false},"axis":null},"x":{"datum":2,"type":"quantitative","scale":{"domain":[-2,2],"range":[441,620],"nice":false,"zero":false},"axis":null},"x2":{"datum":1.89}}},
 {"data":{"name":"one"},"mark":{"type":"text","text":"z","font":"Liberation Serif","fontStyle":"italic","fontSize":27,"align":"left","baseline":"alphabetic","color":"#000"},
  "encoding":{"x":{"datum":-1.8,"type":"quantitative","scale":{"domain":[-2,2],"range":[441,620],"nice":false,"zero":false},"axis":null},"y":{"datum":0.197,"type":"quantitative","scale":{"domain":[-0.25,0.25],"nice":false,"zero":false},"axis":null}}},
 {"data":{"name":"one"},"mark":{"type":"text","text":"(b)","font":"Liberation Serif","fontSize":27,"align":"right","baseline":"alphabetic","color":"#000"},
  "encoding":{"x":{"datum":1.8,"type":"quantitative","scale":{"domain":[-2,2],"range":[441,620],"nice":false,"zero":false},"axis":null},"y":{"datum":0.18,"type":"quantitative","scale":{"domain":[-0.25,0.25],"nice":false,"zero":false},"axis":null}}},
 {"data":{"name":"one"},"mark":{"type":"text","text":"y","font":"Liberation Serif","fontStyle":"italic","fontSize":27,"align":"right","baseline":"alphabetic","color":"#000"},
  "encoding":{"x":{"datum":1.8,"type":"quantitative","scale":{"domain":[-2,2],"range":[441,620],"nice":false,"zero":false},"axis":null},"y":{"datum":-0.211,"type":"quantitative","scale":{"domain":[-0.25,0.25],"nice":false,"zero":false},"axis":null}}},
 {"data":{"name":"one"},"mark":{"type":"rect","fill":{"gradient":"linear","x1":0,"y1":1,"x2":0,"y2":0,"stops":[{"offset":0,"color":"#ff0000"},{"offset":0.1,"color":"#f20800"},{"offset":0.2,"color":"#e81500"},{"offset":0.3,"color":"#d42408"},{"offset":0.4,"color":"#bd3512"},{"offset":0.5,"color":"#a0481f"},{"offset":0.6,"color":"#8a5a30"},{"offset":0.7,"color":"#6f7a4e"},{"offset":0.8,"color":"#4a9878"},{"offset":0.9,"color":"#30c0a8"},{"offset":1,"color":"#00f5f0"}]},"stroke":"#444","strokeWidth":1},
  "encoding":{"x":{"datum":0,"type":"quantitative","scale":{"domain":[0,1],"range":[634,651],"nice":false,"zero":false},"axis":null},"x2":{"datum":1},
   "y":{"datum":3.75,"type":"quantitative","scale":{"domain":[3.75,5],"range":[196,-20],"nice":false,"zero":false},"axis":{"orient":"right","offset":471,"values":[3.75,5],"labelExpr":"format(datum.value, '.2f')","labelFlush":true,"labelOverlap":false,"domain":false,"ticks":false,"grid":false,"labelFont":"Liberation Serif","labelFontSize":24,"labelColor":"#000","labelPadding":6,"title":"time [Gyr]","titleFont":"DejaVu Serif","titleFontSize":23,"titleFontWeight":"normal","titleColor":"#000","titleAngle":270,"titleBaseline":"top","titleAlign":"center","titleX":15,"titleY":89}},"y2":{"datum":5}}},
 {"data":{"name":"ctb"},"mark":{"type":"rule","color":"#333","strokeWidth":1},
  "encoding":{"x":{"datum":0,"type":"quantitative","scale":{"domain":[0,1],"range":[634,651],"nice":false,"zero":false},"axis":null},"x2":{"datum":0.2},"y":{"field":"v","type":"quantitative","scale":{"domain":[3.75,5],"range":[196,-20],"nice":false,"zero":false},"axis":null}}},
 {"data":{"name":"ctb"},"mark":{"type":"rule","color":"#333","strokeWidth":1},
  "encoding":{"x":{"datum":1,"type":"quantitative","scale":{"domain":[0,1],"range":[634,651],"nice":false,"zero":false},"axis":null},"x2":{"datum":0.8},"y":{"field":"v","type":"quantitative","scale":{"domain":[3.75,5],"range":[196,-20],"nice":false,"zero":false},"axis":null}}}
],
"resolve":{"scale":{"x":"independent","y":"independent","color":"independent"},"axis":{"x":"independent","y":"independent"}}
}
